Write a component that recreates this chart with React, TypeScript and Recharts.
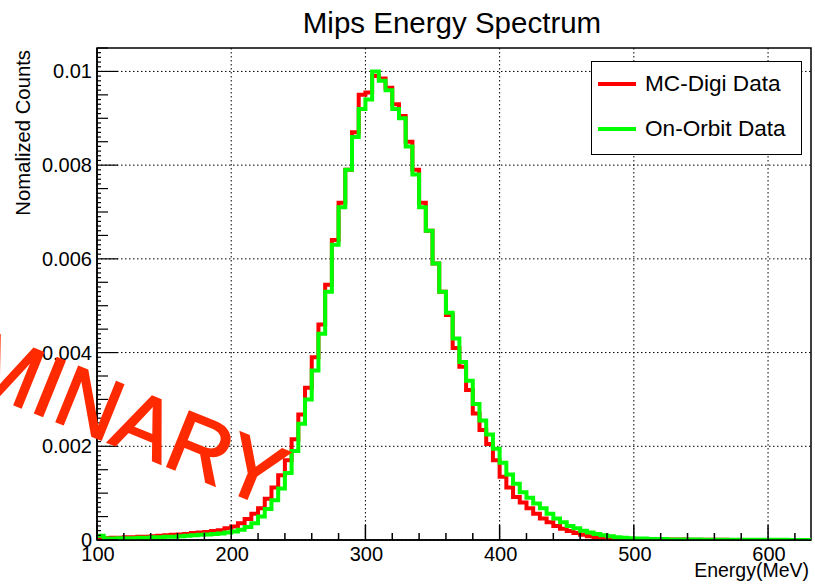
import React from "react";
import { LineChart, Line, XAxis, YAxis, CartesianGrid, ReferenceArea } from "recharts";

// histogram bins: 5 MeV wide, lower edges from 100 to 625 MeV
const BIN_START = 100;
const BIN_WIDTH = 5;
const X_MAX = 632;
const Y_MAX = 0.0105;

const mcDigi = [
  0.00004, 0.00004, 0.00005, 0.00005, 0.00006, 0.00006, 0.00007, 0.00007, 0.00008, 0.00009,
  0.0001, 0.00011, 0.00012, 0.00013, 0.00015, 0.00016, 0.00017, 0.00019, 0.00021, 0.00025,
  0.00029, 0.00036, 0.00045, 0.00056, 0.00068, 0.00088, 0.00112, 0.00138, 0.0017, 0.00215,
  0.00268, 0.00325, 0.0039, 0.0046, 0.00545, 0.0064, 0.0072, 0.0079, 0.0087, 0.0095,
  0.00955, 0.0099, 0.00985, 0.00965, 0.0093, 0.00905, 0.0085, 0.0079, 0.0072, 0.0066,
  0.0059, 0.0053, 0.0048, 0.0041, 0.0037, 0.0032, 0.0027, 0.00235, 0.00205, 0.0017,
  0.00135, 0.00112, 0.00092, 0.0008, 0.00068, 0.00056, 0.00046, 0.00038, 0.0003, 0.00024,
  0.00019, 0.00015, 0.00011, 0.00008, 0.00006, 0.00005, 0.00004, 0.00003, 0.00003, 0.00002,
  0.00002, 0.00002, 0.00001, 0.00001, 0.00001, 0.00001, 0.00001, 0.00001, 0.000005, 0.000005,
  0.000005, 0.000005, 0.000003, 0.000003, 0.000002, 0.000002, 0.000002, 0.000001, 0.000001, 0.000001,
  0.000001, 0.000001, 0, 0, 0, 0,
];

const onOrbit = [
  0.00009, 0.00003, 0.00003, 0.00004, 0.00004, 0.00004, 0.00005, 0.00005, 0.00006, 0.00006,
  0.00007, 0.00007, 0.00008, 0.00009, 0.0001, 0.00011, 0.00012, 0.00013, 0.00014, 0.00016,
  0.00018, 0.00022, 0.00028, 0.00036, 0.0005, 0.00066, 0.00085, 0.0011, 0.00143, 0.0019,
  0.00248, 0.003, 0.00362, 0.0044, 0.0053, 0.0063, 0.0071, 0.0079, 0.0086, 0.0092,
  0.0094, 0.01, 0.0098, 0.0096, 0.0092, 0.009, 0.0084, 0.0078, 0.0071, 0.0066,
  0.0059, 0.0053, 0.00485, 0.0043, 0.0038, 0.0034, 0.0029, 0.00255, 0.00225, 0.00195,
  0.00165, 0.0014, 0.0012, 0.00102, 0.0009, 0.00078, 0.00068, 0.00056, 0.00046, 0.00038,
  0.0003, 0.00025, 0.0002, 0.00016, 0.00013, 0.0001, 0.00008, 0.00006, 0.00005, 0.00004,
  0.00003, 0.00003, 0.00002, 0.00002, 0.00002, 0.00001, 0.00001, 0.00001, 0.00001, 0.00001,
  0.000008, 0.000008, 0.000006, 0.000006, 0.000005, 0.000005, 0.000004, 0.000004, 0.000004, 0.000003,
  0.000003, 0.000003, 0.000003, 0.000002, 0.000002, 0.000002,
];

const xTicks = Array.from({ length: 27 }, (_, i) => 100 + i * 20);
const yTicks = Array.from({ length: 106 }, (_, i) => i / 10000);
const xGrid = [100, 200, 300, 400, 500, 600];
const yGrid = [0, 0.002, 0.004, 0.006, 0.008, 0.01];

const data = mcDigi.map((v, i) => ({
  energy: BIN_START + i * BIN_WIDTH,
  mc: v,
  orbit: onOrbit[i],
}));
// closing edge of the last bin
data.push({ energy: X_MAX, mc: mcDigi[mcDigi.length - 1], orbit: onOrbit[onOrbit.length - 1] });

const FONT = "'Liberation Sans', Arial, Helvetica, sans-serif";

const XTick = (props: any) => {
  const { x, y, payload } = props;
  const major = payload.value % 100 === 0;
  return (
    <g>
      <line x1={x} x2={x} y1={y} y2={y - (major ? 15 : 7)} stroke="#000" strokeWidth={1.5} />
      {major && (
        <text x={x + 1} y={y + 21} textAnchor="middle" fontSize={20} fontFamily={FONT} fill="#000">
          {payload.value}
        </text>
      )}
    </g>
  );
};

const YTick = (props: any) => {
  const { x, y, payload } = props;
  const k = Math.round(payload.value * 10000);
  const major = k % 20 === 0;
  const len = major ? 21 : k % 5 === 0 ? 11 : 4;
  return (
    <g>
      <line x1={x} x2={x + len} y1={y} y2={y} stroke="#000" strokeWidth={1.2} />
      {major && (
        <text x={x - 5} y={y + 7} textAnchor="end" fontSize={20} fontFamily={FONT} fill="#000">
          {String(+payload.value.toFixed(3))}
        </text>
      )}
    </g>
  );
};

const App = () => {
  return (
    <div style={{ position: "absolute", left: 0, top: 0, width: 815, height: 586, background: "#fff" }}>
      <LineChart width={815} height={586} data={data} margin={{ top: 48, right: 4, left: 7, bottom: 0 }}>
        <CartesianGrid
          horizontalValues={yGrid}
          verticalValues={xGrid}
          stroke="#000"
          strokeWidth={1}
          strokeDasharray="1.5 2.5"
        />
        <XAxis
          dataKey="energy"
          type="number"
          domain={[BIN_START, X_MAX]}
          ticks={xTicks}
          interval={0}
          height={46}
          tickSize={0}
          tickMargin={0}
          tickLine={false}
          axisLine={{ stroke: "#000", strokeWidth: 1.5 }}
          tick={<XTick />}
          allowDataOverflow
        />
        <YAxis
          type="number"
          domain={[0, Y_MAX]}
          ticks={yTicks}
          interval={0}
          width={90}
          tickSize={0}
          tickMargin={0}
          tickLine={false}
          axisLine={{ stroke: "#000", strokeWidth: 1.5 }}
          tick={<YTick />}
          allowDataOverflow
        />
        <ReferenceArea x1={BIN_START} x2={X_MAX} y1={0} y2={Y_MAX} fill="none" stroke="#000" strokeWidth={1.5} />
        <Line type="stepAfter" dataKey="mc" stroke="#ff0000" strokeWidth={4} dot={false} isAnimationActive={false} />
        <Line type="stepAfter" dataKey="orbit" stroke="#00ff00" strokeWidth={4} dot={false} isAnimationActive={false} />
      </LineChart>

      <svg
        width={815}
        height={586}
        style={{ position: "absolute", left: 0, top: 0, pointerEvents: "none" }}
        fontFamily={FONT}
      >
        <text x={452} y={33} textAnchor="middle" fontSize={29.5} fill="#000">
          Mips Energy Spectrum
        </text>
        <text x={30} y={50} textAnchor="end" fontSize={20.3} fill="#000" transform="rotate(-90 30 50)">
          Nomalized Counts
        </text>
        <text x={809} y={577} textAnchor="end" fontSize={19.5} fill="#000">
          Energy(MeV)
        </text>
        <text
          x={270}
          y={508}
          textAnchor="end"
          fontSize={86}
          fill="#ff2a00"
          stroke="#ff2a00"
          strokeWidth={2}
          transform="rotate(22 270 508)"
        >
          PRELIMINARY
        </text>
      </svg>

      <div
        style={{
          position: "absolute",
          left: 591,
          top: 61,
          width: 209,
          height: 92,
          border: "1.5px solid #000",
          background: "#fff",
          fontFamily: FONT,
          fontSize: 22.6,
        }}
      >
        {[
          { label: "MC-Digi Data", color: "#ff0000", top: 22 },
          { label: "On-Orbit Data", color: "#00ff00", top: 67 },
        ].map((item) => (
          <div key={item.label} style={{ position: "absolute", left: 6, top: item.top - 13, height: 26, display: "flex", alignItems: "center" }}>
            <div style={{ width: 38, height: 4, background: item.color, marginRight: 9 }} />
            <span>{item.label}</span>
          </div>
        ))}
      </div>
    </div>
  );
};

export default App;
